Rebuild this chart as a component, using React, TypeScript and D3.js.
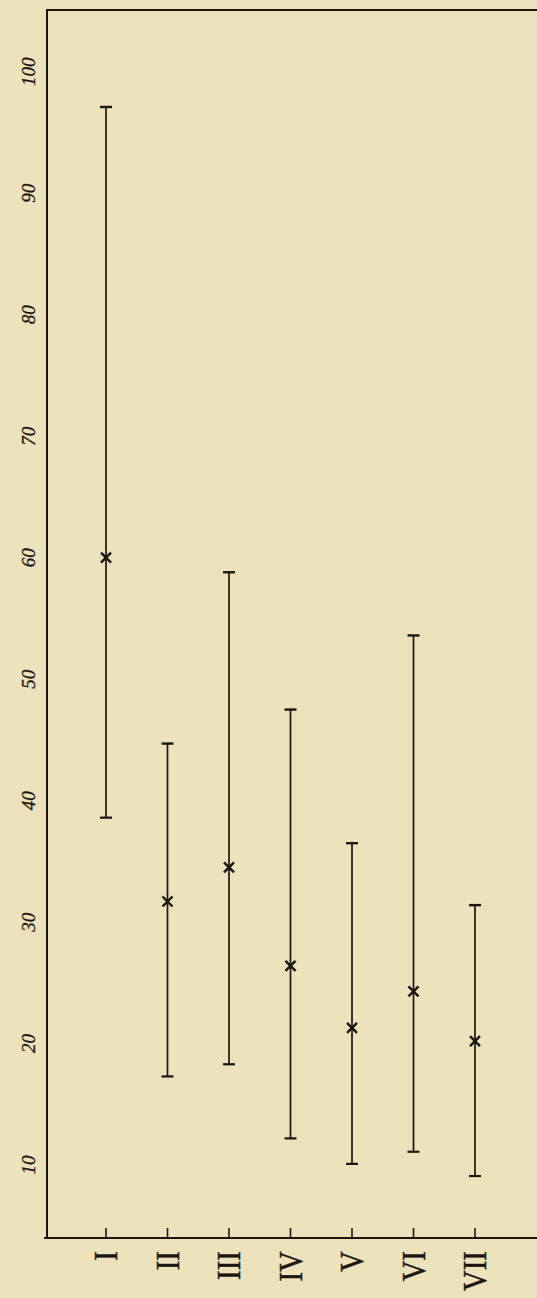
import React from 'react';
import * as d3 from 'd3';

const categories = ['I', 'II', 'III', 'IV', 'V', 'VI', 'VII'];
const upperValues = [97.1, 44.7, 58.8, 47.5, 36.5, 53.6, 31.4];
const meanValues = [60.0, 31.7, 34.5, 26.4, 21.3, 24.3, 20.2];
const lowerValues = [38.6, 17.3, 18.3, 12.2, 10.1, 11.1, 9.1];
const valueTicks = [10, 20, 30, 40, 50, 60, 70, 80, 90, 100];

const WIDTH = 537;
const HEIGHT = 1298;
const LEFT = 47;
const TOP = 11;
const BOTTOM = 1238;
const INK = '#1c1611';
const PAPER = '#ece2bc';

const App = () => {
    const y = d3.scaleLinear().domain([4, 105]).range([BOTTOM, TOP]);
    const x = d3.scalePoint<string>().domain(categories).range([106, 475]);

    const rows = categories.map((c, i) => ({
        c, hi: upperValues[i], mean: meanValues[i], lo: lowerValues[i],
    }));

    const frame = d3.line()([[LEFT, BOTTOM], [LEFT, TOP - 1], [WIDTH, TOP - 1]]);

    return (
        <svg width={WIDTH} height={HEIGHT}
            style={{ position: 'absolute', left: 0, top: 0, display: 'block', background: PAPER }}>
            <rect width={WIDTH} height={HEIGHT} fill={PAPER} />

            {/* frame: left and top border, bottom axis */}
            <path d={frame || ''} fill="none" stroke={INK} strokeWidth={2} />
            <line x1={LEFT - 3} x2={WIDTH} y1={BOTTOM} y2={BOTTOM} stroke={INK} strokeWidth={2} />

            {/* category ticks and labels */}
            {categories.map(c => (
                <g key={c} transform={`translate(${x(c)},0)`}>
                    <line y1={BOTTOM - 10} y2={BOTTOM} stroke={INK} strokeWidth={1.6} />
                    <text transform={`translate(0,${BOTTOM + 13}) rotate(-90) scale(1,1.15)`}
                        textAnchor="end" dominantBaseline="central"
                        fontFamily="'Liberation Serif', serif" fontSize={29} fill={INK}
                        stroke={INK} strokeWidth={0.4}>
                        {c}
                    </text>
                </g>
            ))}

            {/* value labels */}
            {valueTicks.map(v => (
                <text key={v} transform={`translate(28,${y(v)}) rotate(-90)`}
                    textAnchor="middle" dominantBaseline="central"
                    fontFamily="'Liberation Serif', serif" fontStyle="italic"
                    fontSize={19} fill={INK} stroke={INK} strokeWidth={0.3}>
                    {v}
                </text>
            ))}

            {/* ranges with mean marks */}
            {rows.map(d => {
                const cx = x(d.c) as number;
                const m = y(d.mean);
                return (
                    <g key={d.c} stroke={INK} fill="none">
                        <line x1={cx} x2={cx} y1={y(d.hi)} y2={y(d.lo)} strokeWidth={1.7} />
                        <line x1={cx - 6} x2={cx + 6} y1={y(d.hi)} y2={y(d.hi)} strokeWidth={2.4} />
                        <line x1={cx - 6} x2={cx + 6} y1={y(d.lo)} y2={y(d.lo)} strokeWidth={2.2} />
                        <line x1={cx - 5} x2={cx + 5} y1={m - 5} y2={m + 5} strokeWidth={2.4} />
                        <line x1={cx - 5} x2={cx + 5} y1={m + 5} y2={m - 5} strokeWidth={2.4} />
                    </g>
                );
            })}
        </svg>
    );
};

export default App;
